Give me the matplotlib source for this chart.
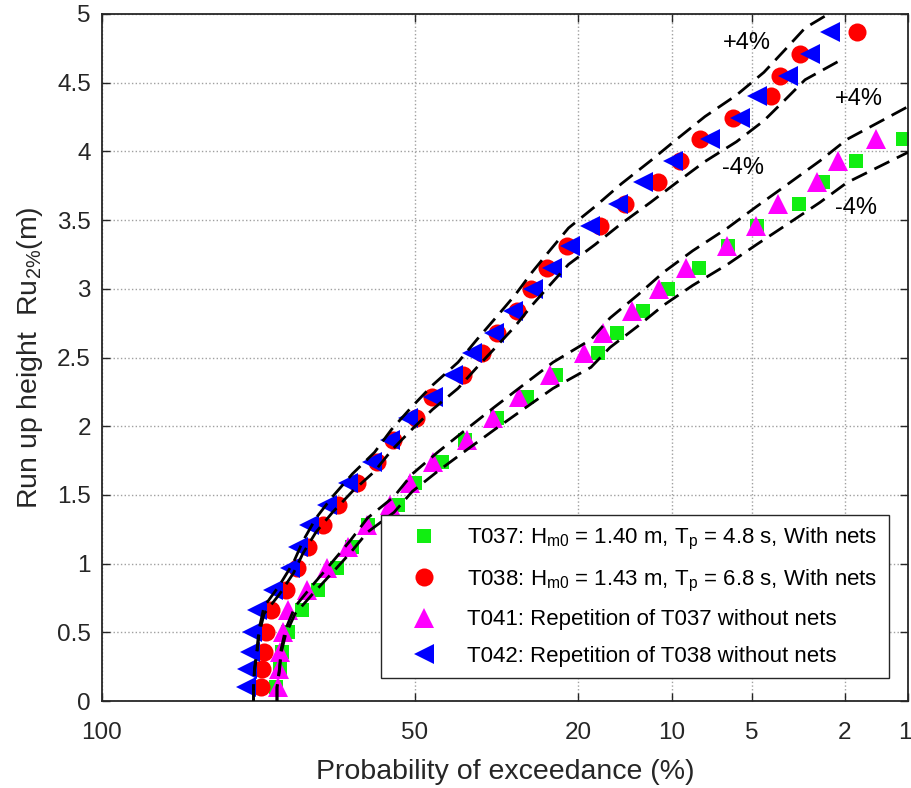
import numpy as np
import matplotlib
matplotlib.use("Agg")
import matplotlib.pyplot as plt
from matplotlib.transforms import ScaledTranslation

plt.rcParams['font.family'] = ['Liberation Sans', 'DejaVu Sans']
plt.rcParams['mathtext.default'] = 'regular'

# run-up levels (m), shared by all four tests
levels = [0.10, 0.23, 0.36, 0.50, 0.66, 0.81, 0.97, 1.12, 1.28, 1.43, 1.59,
          1.74, 1.90, 2.06, 2.21, 2.37, 2.53, 2.68, 2.84, 3.00, 3.15, 3.31,
          3.46, 3.62, 3.78, 3.93, 4.09, 4.24, 4.40, 4.55, 4.71, 4.87]

# probability of exceedance (%) for each level
t037_p = [80.69, 79.88, 79.48, 78.25, 75.31, 71.84, 67.61, 64.21, 60.56, 53.74,
          49.94, 44.07, 39.29, 33.09, 27.79, 23.20, 17.48, 15.26, 12.56, 10.32,
          7.99, 6.22, 4.78, 3.20, 2.51, 1.78, 1.06]
t038_p = [83.59, 83.40, 83.03, 82.65, 81.67, 78.66, 76.37, 74.02, 70.74, 67.38,
          63.07, 58.50, 54.87, 49.71, 46.21, 39.70, 35.93, 33.09, 29.50, 27.13,
          24.57, 21.59, 17.24, 14.39, 11.18, 9.36, 7.93, 5.95, 4.19, 3.84,
          3.16, 1.76]
t041_p = [80.28, 80.08, 79.88, 79.28, 78.25, 74.24, 69.85, 65.12, 60.79, 55.54,
          51.05, 45.99, 38.89, 33.83, 29.15, 24.10, 19.27, 16.88, 13.65, 11.09,
          8.91, 6.27, 4.82, 3.92, 2.67, 2.15, 1.43]
t042_p = [86.33, 86.16, 85.62, 85.26, 84.34, 81.28, 77.84, 76.16, 73.81, 69.85,
          65.12, 59.65, 55.54, 51.49, 45.99, 41.76, 37.89, 33.65, 30.20, 26.80,
          23.80, 21.17, 18.48, 15.15, 12.56, 9.92, 7.28, 5.58, 4.78, 3.56,
          2.86, 2.34]

labels = ['T037: H$_{m0}$ = 1.40 m, T$_{p}$ = 4.8 s, With nets',
          'T038: H$_{m0}$ = 1.43 m, T$_{p}$ = 6.8 s, With nets',
          'T041: Repetition of T037 without nets',
          'T042: Repetition of T038 without nets']

xticks = [100, 50, 20, 10, 5, 2, 1]
band = 0.04


def rayleigh(p):
    p = np.clip(np.asarray(p, dtype=float), 1e-9, 100)
    return np.sqrt(np.maximum(-np.log(p / 100.0), 0))


def rayleigh_inv(u):
    return 100.0 * np.exp(-np.asarray(u, dtype=float) ** 2)


fig = plt.figure(figsize=(9.12, 7.88), dpi=100)
ax = fig.add_axes([102 / 912, 1 - 701 / 788, 806 / 912, 687 / 788])
ax.set_xscale('function', functions=(rayleigh, rayleigh_inv))

n037, n041 = len(t037_p), len(t041_p)
ax.plot(t037_p, levels[:n037], 's', color='#11ee11', ms=9.5, mew=0, label=labels[0])
ax.plot(t038_p, levels, 'o', color='#ff0000', ms=13, mew=0, label=labels[1])
ax.plot(t041_p, levels[:n041], '^', color='#ff00ff', ms=14, mew=0, label=labels[2])
ax.plot(t042_p, levels, '<', color='#0000ff', ms=14, mew=0, label=labels[3])

# +/-4 % bands around the mean curve of each pair
ua = (rayleigh(t038_p) + rayleigh(t042_p)) / 2
ya = np.array(levels)
ua = np.r_[ua[0], ua]
ya = np.r_[0, ya]

ub = (rayleigh(t037_p) + rayleigh(t041_p)) / 2
yb = np.array(levels[:n037])
u_end = rayleigh(1)
y_end = yb[-1] + (yb[-1] - yb[-2]) / (ub[-1] - ub[-2]) * (u_end - ub[-1])
ub = np.r_[ub[0], ub, u_end]
yb = np.r_[0, yb, y_end]

for u, y in [(ua, ya), (ub, yb)]:
    for f in (1 + band, 1 - band):
        ax.plot(rayleigh_inv(u), y * f, '--', color='k', lw=2,
                dashes=(6, 3), zorder=5)

ax.text(5.26, 4.79, '+4%', fontsize=17, ha='center', va='center')
ax.text(5.42, 3.88, '-4%', fontsize=17, ha='center', va='center')
ax.text(1.72, 4.38, '+4%', fontsize=17, ha='center', va='center')
ax.text(1.78, 3.59, '-4%', fontsize=17, ha='center', va='center')

ax.set_xlim(100, 1)
if ax.transData.transform((100, 0))[0] > ax.transData.transform((1, 0))[0]:
    ax.invert_xaxis()
ax.set_ylim(0, 5)
ax.set_xticks(xticks)
ax.set_xticklabels([str(t) for t in xticks])
ax.xaxis.set_minor_locator(matplotlib.ticker.NullLocator())
ax.set_yticks(np.arange(0, 5.01, 0.5))
ax.set_yticklabels(['0', '0.5', '1', '1.5', '2', '2.5', '3', '3.5', '4', '4.5', '5'])

ax.grid(True, linestyle=':', color='#a0a0a0', lw=1)
ax.tick_params(direction='in', length=6, width=1, top=True, right=True,
               labelsize=17.5, colors='#262626')
ax.tick_params(axis='x', pad=15)
ax.tick_params(axis='y', pad=8)
for s in ax.spines.values():
    s.set_color('#262626')
    s.set_linewidth(1.3)

# keep the "1" at the right edge inside the figure
last = ax.get_xticklabels()[-1]
last.set_transform(last.get_transform() + ScaledTranslation(-3 / 100, 0, fig.dpi_scale_trans))

ax.set_xlabel('Probability of exceedance (%)', fontsize=20.5, color='#262626',
              labelpad=11)
ax.set_ylabel('Run up height  Ru$_{2\\%}$(m)', fontsize=20.5, color='#262626',
              labelpad=9)

leg = ax.legend(loc='lower right', bbox_to_anchor=(0.976, 0.0335), fontsize=16,
                fancybox=False, edgecolor='#262626', framealpha=1,
                borderpad=0.5, labelspacing=0.7, handlelength=2.9,
                handletextpad=0.5, borderaxespad=0)
leg.get_frame().set_linewidth(1)

fig.savefig('out.png', dpi=100)
